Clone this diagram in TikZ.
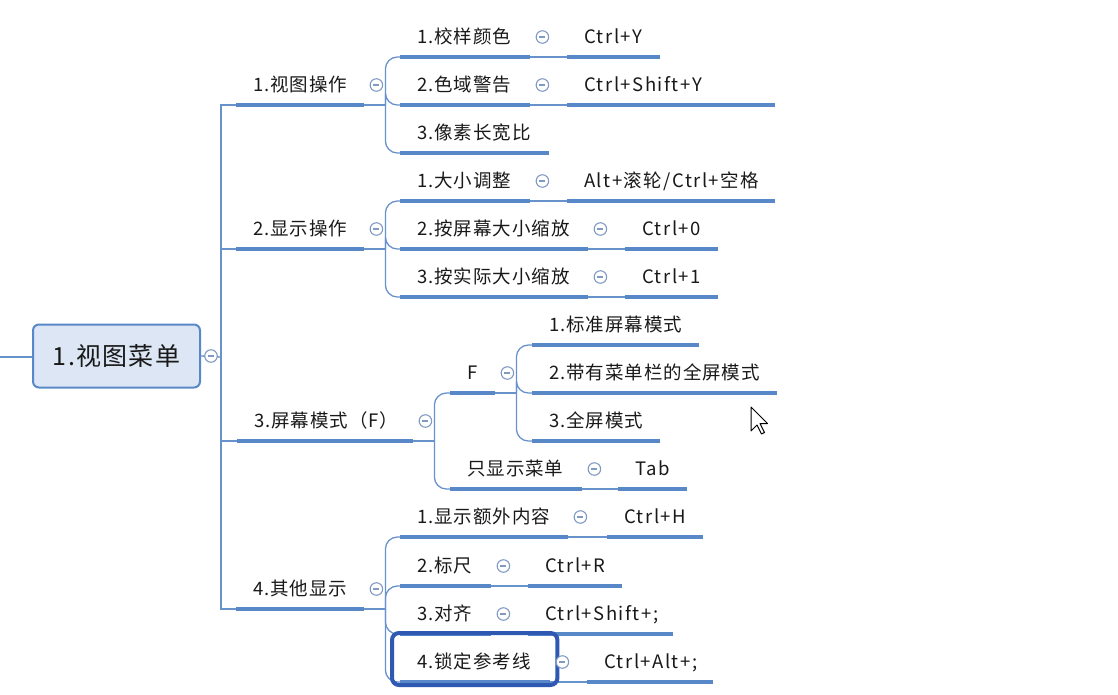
\documentclass[tikz,border=0pt]{standalone}
\usepackage{fontspec}
\setmainfont{Noto Sans CJK SC}[LetterSpace=5]
\newfontfamily\keyfont{Noto Sans CJK SC}[LetterSpace=8]
\usetikzlibrary{positioning,calc}

\definecolor{barblue}{RGB}{88,136,200}
\definecolor{linkblue}{RGB}{104,146,204}
\definecolor{foldgray}{RGB}{128,154,196}
\definecolor{rootfill}{RGB}{220,230,244}
\definecolor{pickblue}{RGB}{46,88,178}

\tikzset{
  topic/.style={anchor=south west, text width=#1, inner xsep=17pt, inner ysep=0pt,
    minimum height=40pt, align=left, font=\fontsize{18.5}{20}\selectfont,
    text height=1.5em, text depth=0.12em, text=black!90},
  key/.style={topic=#1, font=\keyfont\fontsize{18.5}{20}\selectfont},
  bar/.style={draw=barblue, line width=4pt},
  link/.style={draw=linkblue, line width=1.3pt},
  fold/.style={circle, draw=foldgray, line width=1.1pt, fill=white, minimum size=12.5pt, inner sep=0pt,
    path picture={\draw[foldgray, line width=1.1pt] ([xshift=-3pt]path picture bounding box.center) -- ([xshift=3pt]path picture bounding box.center);}},
  root/.style={draw=barblue, line width=2pt, fill=rootfill, rounded corners=6pt,
    minimum width=167pt, minimum height=63pt, text=black!90,
    font=\fontsize{25}{28}\selectfont},
  pick/.style={draw=pickblue, line width=4pt, rounded corners=7pt},
}

\begin{document}
\begin{tikzpicture}[x=1pt, y=-1pt]
  \useasboundingbox (0,0) rectangle (1118,694);

  % Root
  \node[root] (menu) at (116.5,356) {1.视图菜单};
  \coordinate (edge) at (0,357);
  \coordinate (trunk) at (221,357);

  % First level
  \node[topic=94pt]  (op1) at (236,105) {1.视图操作};
  \node[topic=94pt]  (op2) at (236,249) {2.显示操作};
  \node[topic=142pt] (op3) at (237,441) {3.屏幕模式（F）};
  \node[topic=94pt]  (op4) at (236,609) {4.其他显示};

  % 1.视图操作
  \node[topic=96pt]  (a1) at (400,57)  {1.校样颜色};
  \node[topic=96pt]  (a2) at (400,105) {2.色域警告};
  \node[topic=115pt] (a3) at (400,153) {3.像素长宽比};
  \node[key=59pt]    (k1) at (567,57)  {Ctrl+Y};
  \node[key=174pt]   (k2) at (567,105) {Ctrl+Shift+Y};

  % 2.显示操作
  \node[topic=96pt]  (b1) at (400,201) {1.大小调整};
  \node[topic=154pt] (b2) at (400,249) {2.按屏幕大小缩放};
  \node[topic=154pt] (b3) at (400,297) {3.按实际大小缩放};
  \node[key=174pt]   (kb1) at (567,201) {Alt+滚轮/Ctrl+空格};
  \node[key=59pt]    (kb2) at (625,249) {Ctrl+0};
  \node[key=59pt]    (kb3) at (625,297) {Ctrl+1};

  % 3.屏幕模式
  \node[key=11pt]    (F)    at (450,393) {F};
  \node[topic=98pt]  (only) at (450,489) {只显示菜单};
  \node[key=35pt]    (tab)  at (618,489) {Tab};
  \node[topic=133pt] (s1) at (532,345) {1.标准屏幕模式};
  \node[topic=211pt] (s2) at (532,393) {2.带有菜单栏的全屏模式};
  \node[topic=94pt]  (s3) at (532,441) {3.全屏模式};

  % 4.其他显示
  \node[topic=134pt] (d1) at (400,537) {1.显示额外内容};
  \node[topic=57pt]  (d2) at (400,586) {2.标尺};
  \node[topic=57pt]  (d3) at (400,634) {3.对齐};
  \node[topic=116pt] (d4) at (400,682) {4.锁定参考线};
  \node[key=62pt]    (kd1) at (607,537) {Ctrl+H};
  \node[key=60pt]    (kd2) at (528,586) {Ctrl+R};
  \node[key=111pt]   (kd3) at (528,634) {Ctrl+Shift+;};
  \node[key=92pt]    (kd4) at (587,682) {Ctrl+Alt+;};

  % Underlines
  \foreach \n in {op1,op2,op3,op4,a1,a2,a3,k1,k2,b1,b2,b3,kb1,kb2,kb3,
                  F,only,tab,s1,s2,s3,d1,d2,d3,d4,kd1,kd2,kd3,kd4}
    \draw[bar] (\n.south west) -- (\n.south east);

  % Trunk
  \draw[link] (edge) -- (edge -| menu.west);
  \draw[link] (menu.east) -- (trunk);
  \draw[link] (op1.south west) -| (trunk) |- (op4.south west);
  \draw[link] (trunk |- op2.south west) -- (op2.south west);
  \draw[link] (trunk |- op3.south west) -- (op3.south west);

  % Brackets
  \foreach \p/\kids in {op1/{a1,a2,a3}, op2/{b1,b2,b3}, op3/{F,only},
                        F/{s1,s2,s3}, op4/{d1,d2,d3,d4}} {
    \coordinate (fork-\p) at ([xshift=21pt]\p.south east);
    \draw[link] (\p.south east) -- (fork-\p);
    \foreach \c in \kids
      \draw[link, rounded corners=12pt] (fork-\p) |- (\c.south west);
  }

  % Shortcuts
  \foreach \a/\b in {a1/k1, a2/k2, b1/kb1, b2/kb2, b3/kb3, only/tab,
                     d1/kd1, d2/kd2, d3/kd3, d4/kd4}
    \draw[link] (\a.south east) -- (\b.south west);

  % Selected topic
  \draw[pick] ([shift={(-8,-49)}]d4.south west) rectangle ([shift={(7,3)}]d4.south east);

  % Fold markers
  \node[fold] (fold-menu) at ([xshift=10pt]menu.east) {};
  \foreach \n in {op1,op2,op3,op4,a1,a2,b1,b2,b3,F,only,d1,d2,d3,d4}
    \node[fold] (fold-\n) at ([shift={(12,-20)}]\n.south east) {};

  % Mouse pointer
  \draw[fill=white, line width=1pt, line join=round] (751,407) -- ++(0,24) -- ++(6,-6)
    -- ++(4.5,9) -- ++(3,-1.5) -- ++(-4.5,-9) -- ++(7.5,0) -- cycle;
\end{tikzpicture}
\end{document}
